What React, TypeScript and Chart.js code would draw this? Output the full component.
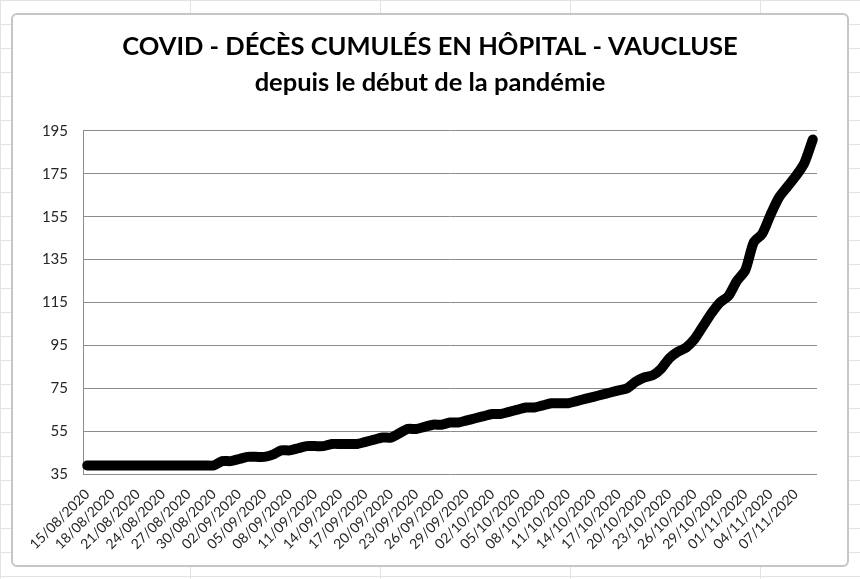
import Chart, { ChartConfiguration } from 'chart.js/auto';
import React, { useEffect, useRef } from 'react';

// 15/08/2020 -> 09/11/2020, un point par jour
const startDate = new Date(2020, 7, 15);
const dayCount = 87;
const labels: string[] = Array.from({ length: dayCount }, (_, i) => {
  const d = new Date(startDate.getFullYear(), startDate.getMonth(), startDate.getDate() + i);
  const dd = String(d.getDate()).padStart(2, '0');
  const mm = String(d.getMonth() + 1).padStart(2, '0');
  return `${dd}/${mm}/${d.getFullYear()}`;
});

// décès cumulés en hôpital
const deces: number[] = [
  39, 39, 39, 39, 39, 39, 39, 39, 39, 39, 39, 39, 39, 39, 39, 39,
  41, 41, 42, 43, 43, 43, 44, 46, 46, 47, 48, 48, 48, 49, 49, 49,
  49, 50, 51, 52, 52, 54, 56, 56, 57, 58, 58, 59, 59, 60, 61, 62,
  63, 63, 64, 65, 66, 66, 67, 68, 68, 68, 69, 70, 71, 72, 73, 74,
  75, 78, 80, 81, 84, 89, 92, 94, 98, 104, 110, 115, 118, 125, 130, 143,
  147, 156, 164, 169, 174, 180, 191,
];

const yMin = 35;
const yMax = 195;
const yStep = 20;

const titleLines = ['COVID - DÉCÈS CUMULÉS EN HÔPITAL - VAUCLUSE', 'depuis le début de la pandémie'];

const App: React.FC = () => {
  const chartRef = useRef<HTMLCanvasElement>(null);
  const chartInstanceRef = useRef<Chart | null>(null);

  useEffect(() => {
    if (!chartRef.current) return;
    const ctx = chartRef.current.getContext('2d');
    if (!ctx) return;

    if (chartInstanceRef.current) {
      chartInstanceRef.current.destroy();
    }

    const config: ChartConfiguration = {
      type: 'line',
      data: {
        labels,
        datasets: [
          {
            label: 'Décès cumulés',
            data: deces,
            borderColor: '#000000',
            borderWidth: 10,
            borderCapStyle: 'round',
            borderJoinStyle: 'round',
            pointRadius: 0,
            tension: 0.25,
            fill: false,
          },
        ],
      },
      options: {
        responsive: false,
        animation: false,
        layout: {
          padding: { left: 0, right: 0, top: 0, bottom: 25 },
        },
        scales: {
          x: {
            offset: true,
            grid: { display: false },
            border: { display: false },
            ticks: {
              autoSkip: false,
              maxRotation: 45,
              minRotation: 45,
              padding: 4,
              color: '#262626',
              font: { family: 'Lato', size: 14 },
              callback: (_v, i) => (i % 3 === 0 ? labels[i] : ''),
            },
            afterFit: (axis) => {
              axis.height = 80;
            },
          },
          y: {
            min: yMin,
            max: yMax,
            grid: { color: '#8c8c8c', lineWidth: 1, drawTicks: false },
            border: { display: true, color: '#8c8c8c' },
            ticks: {
              stepSize: yStep,
              padding: 15,
              color: '#262626',
              font: { family: 'Lato', size: 15 },
            },
            afterFit: (axis) => {
              axis.width = 83;
            },
          },
          // axe vide à droite, pour garder le titre centré sur la page
          yRight: {
            position: 'right',
            display: true,
            grid: { display: false, drawTicks: false },
            border: { display: false },
            ticks: { display: false },
            afterFit: (axis) => {
              axis.width = 43;
            },
          },
        },
        plugins: {
          legend: { display: false },
          tooltip: { enabled: false },
          title: {
            display: true,
            text: titleLines,
            color: '#000000',
            font: { family: 'Lato', size: 25.5, weight: 'bold', lineHeight: 1.41 },
            padding: { top: 29, bottom: 30 },
          },
        },
      },
    };

    chartInstanceRef.current = new Chart(ctx, config);

    return () => {
      if (chartInstanceRef.current) {
        chartInstanceRef.current.destroy();
        chartInstanceRef.current = null;
      }
    };
  }, []);

  return (
    <div
      style={{
        position: 'absolute',
        left: 0,
        top: 0,
        width: 860,
        height: 579,
        background: '#ffffff',
        backgroundImage:
          'linear-gradient(#e3e3e3 1px, transparent 1px), linear-gradient(90deg, #e3e3e3 1px, transparent 1px)',
        backgroundSize: '190px 24px',
        overflow: 'hidden',
      }}
    >
      <div
        style={{
          position: 'absolute',
          left: 11,
          top: 13,
          width: 834,
          height: 550,
          border: '2px solid #c6c6c6',
          borderRadius: 6,
          background: '#ffffff',
        }}
      />
      <canvas ref={chartRef} width={860} height={579} style={{ position: 'absolute', left: 0, top: 0 }}></canvas>
    </div>
  );
};

export default App;
